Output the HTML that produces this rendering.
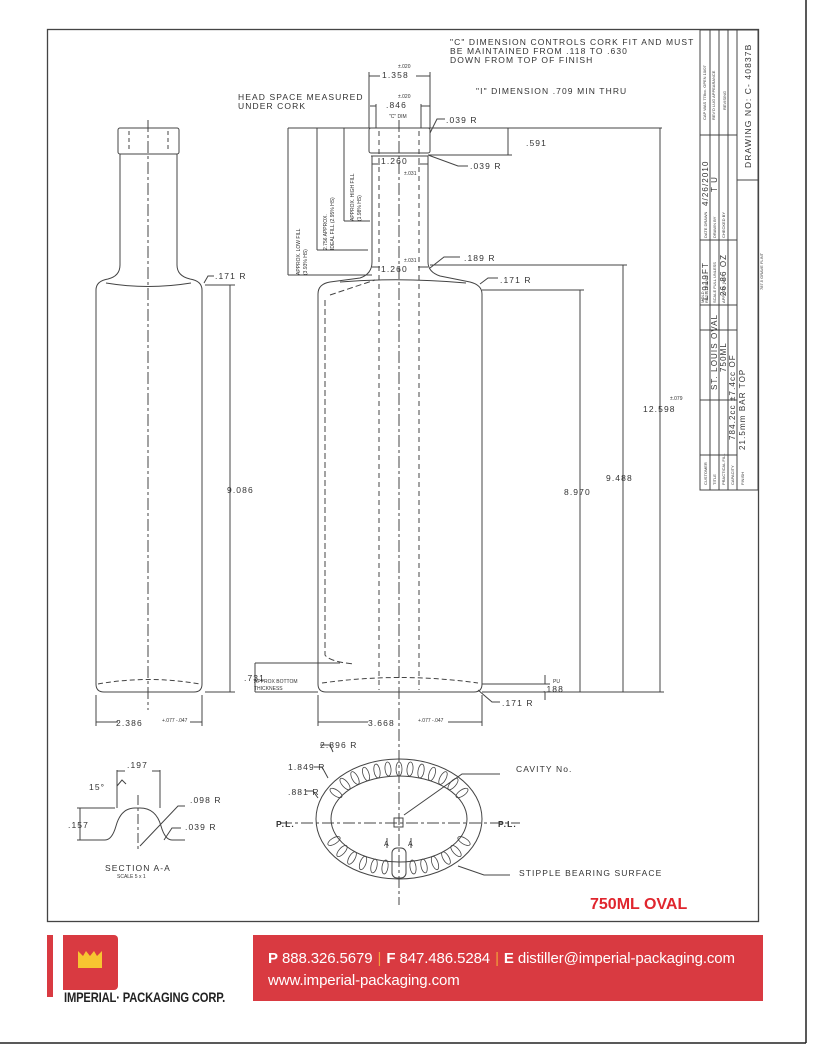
<!DOCTYPE html>
<html><head><meta charset="utf-8"><style>
html,body{margin:0;padding:0;background:#fff;}
body{width:813px;height:1047px;position:relative;overflow:hidden;font-family:"Liberation Sans",sans-serif;}
svg text{font-family:"Liberation Sans",sans-serif;fill:#333;}
.foot{position:absolute;left:253px;top:935px;width:510px;height:66px;background:#d93a41;color:#fff;font-size:15px;line-height:22px;padding:13px 0 0 15px;box-sizing:border-box;white-space:nowrap;letter-spacing:-0.1px;}
.foot b{font-weight:bold;}
.foot i{font-style:normal;color:#f2a33a;padding:0 5px;}
.sp{letter-spacing:1.1px;}
</style></head><body>
<svg width="813" height="1047" viewBox="0 0 813 1047" xmlns="http://www.w3.org/2000/svg" style="position:absolute;left:0;top:0">
<g fill="none" stroke="#444" stroke-width="1">
<rect x="47.5" y="29.5" width="711" height="892" stroke="#444" stroke-width="1.3"/>
<line x1="806" y1="0" x2="806" y2="1043" stroke="#222" stroke-width="1.5"/>
<line x1="0" y1="1043" x2="806" y2="1043" stroke="#222" stroke-width="1.5"/>

<rect x="118" y="128" width="61" height="26" rx="2"/>
<path d="M120 154 V265 Q120 276 108 279 Q96 281 96 290 V684 Q96 692 104 692 H194 Q202 692 202 684 V290 Q202 281 190 279 Q177 276 177 265 V154"/>
<path d="M106 283 Q148 290 191 283"/>
<path d="M98 684 Q148 675 200 684" stroke-dasharray="5 3"/>
<line x1="148" y1="120" x2="148" y2="710" stroke-dasharray="12 3 3 3"/>
<line x1="129" y1="131" x2="129" y2="152" stroke-dasharray="4 3"/>
<line x1="168" y1="131" x2="168" y2="152" stroke-dasharray="4 3"/>
<line x1="205" y1="285" x2="235" y2="285"/><line x1="230" y1="285" x2="230" y2="692"/>
<line x1="205" y1="692" x2="235" y2="692"/>
<path d="M204 283 L208 276 H214"/>
<line x1="96" y1="695" x2="96" y2="726"/><line x1="202" y1="695" x2="202" y2="726"/>
<line x1="96" y1="722" x2="118" y2="722"/><line x1="190" y1="722" x2="202" y2="722"/>

<rect x="369" y="128" width="61" height="25" rx="2"/>
<line x1="371" y1="153" x2="428" y2="153"/><line x1="371" y1="156" x2="428" y2="156"/>
<path d="M372 156 V262 Q372 274 360 278 L330 282 Q318 284 318 294 V684 Q318 692 326 692 H474 Q482 692 482 684 V294 Q482 285 470 282 L440 276 Q428 272 428 262 V156"/>
<path d="M340 282 Q400 277 466 283"/>
<path d="M325 300 V655 Q330 662 355 664" stroke-dasharray="6 3"/>
<path d="M330 295 L375 280" stroke-dasharray="6 3"/>
<path d="M322 683 Q400 672 478 683" stroke-dasharray="5 3"/>
<line x1="399" y1="120" x2="399" y2="905" stroke-dasharray="12 3 3 3"/>
<line x1="379" y1="131" x2="379" y2="690" stroke-dasharray="5 4"/>
<line x1="419" y1="131" x2="419" y2="690" stroke-dasharray="5 4"/>
<line x1="369" y1="72" x2="369" y2="128"/><line x1="430" y1="72" x2="430" y2="128"/>
<line x1="369" y1="76" x2="380" y2="76"/><line x1="416" y1="76" x2="430" y2="76"/>
<line x1="376" y1="104" x2="376" y2="128"/><line x1="421" y1="104" x2="421" y2="128"/>
<line x1="370" y1="106" x2="376" y2="106"/><line x1="421" y1="106" x2="430" y2="106"/>
<line x1="288" y1="128" x2="662" y2="128"/>
<line x1="372" y1="164" x2="380" y2="164"/><line x1="418" y1="164" x2="428" y2="164"/>
<line x1="372" y1="267" x2="380" y2="267"/><line x1="418" y1="267" x2="428" y2="267"/>
<path d="M430 133 L437 119 H445"/>
<path d="M428 155 L458 166 H468"/>
<path d="M430 268 L444 257 H460"/>
<path d="M480 284 L488 278 H498"/>
<line x1="428" y1="155" x2="512" y2="155"/><line x1="508" y1="128" x2="508" y2="155"/>
<line x1="288" y1="128" x2="288" y2="275"/><line x1="288" y1="275" x2="372" y2="275"/>
<line x1="317" y1="128" x2="317" y2="250"/><line x1="317" y1="250" x2="368" y2="250"/>
<line x1="344" y1="128" x2="344" y2="221"/><line x1="344" y1="221" x2="370" y2="221"/>
<line x1="430" y1="265" x2="627" y2="265"/><line x1="623" y1="265" x2="623" y2="692"/>
<line x1="482" y1="290" x2="584" y2="290"/><line x1="580" y1="290" x2="580" y2="692"/>
<line x1="660" y1="128" x2="660" y2="692"/>
<line x1="482" y1="692" x2="664" y2="692"/>
<line x1="482" y1="684" x2="550" y2="684"/>
<line x1="545" y1="675" x2="545" y2="684"/><line x1="545" y1="692" x2="545" y2="700"/>
<path d="M478 690 L492 702 H500"/>
<line x1="255" y1="663" x2="340" y2="663"/><line x1="255" y1="663" x2="255" y2="692"/>
<line x1="255" y1="692" x2="318" y2="692"/>
<line x1="318" y1="695" x2="318" y2="726"/><line x1="482" y1="695" x2="482" y2="726"/>
<line x1="318" y1="722" x2="368" y2="722"/><line x1="448" y1="722" x2="482" y2="722"/>

<ellipse cx="399" cy="819" rx="83" ry="60"/>
<ellipse cx="399" cy="819" rx="68" ry="43"/>
<line x1="280" y1="823" x2="520" y2="823" stroke-dasharray="12 3 3 3"/>
<rect x="394" y="818" width="9" height="9"/>
<rect x="392" y="848" width="14" height="30" rx="5"/>
<path d="M320 745 H330 L333 752"/>
<path d="M314 767 H322 L328 778"/>
<path d="M306 791 H313 L318 798"/>
<path d="M404 815 L462 774 H500"/>
<path d="M458 866 L484 875 H510"/>
<g stroke-width="0.8">
<g transform="translate(399 819)">
<ellipse cx="0" cy="-50" rx="3" ry="7"/>
<ellipse cx="-11" cy="-50" rx="3" ry="7" transform="rotate(-5 -11 -50)"/>
<ellipse cx="11" cy="-50" rx="3" ry="7" transform="rotate(5 11 -50)"/>
<ellipse cx="-22" cy="-48" rx="3" ry="7" transform="rotate(-10 -22 -48)"/>
<ellipse cx="22" cy="-48" rx="3" ry="7" transform="rotate(10 22 -48)"/>
<ellipse cx="-33" cy="-45" rx="3" ry="7" transform="rotate(-18 -33 -45)"/>
<ellipse cx="33" cy="-45" rx="3" ry="7" transform="rotate(18 33 -45)"/>
<ellipse cx="-44" cy="-41" rx="3" ry="7" transform="rotate(-28 -44 -41)"/>
<ellipse cx="44" cy="-41" rx="3" ry="7" transform="rotate(28 44 -41)"/>
<ellipse cx="-54" cy="-35" rx="3" ry="7" transform="rotate(-40 -54 -35)"/>
<ellipse cx="54" cy="-35" rx="3" ry="7" transform="rotate(40 54 -35)"/>
<ellipse cx="-63" cy="-26" rx="3" ry="7" transform="rotate(-55 -63 -26)"/>
<ellipse cx="63" cy="-26" rx="3" ry="7" transform="rotate(55 63 -26)"/>
<ellipse cx="-14" cy="48" rx="3" ry="7" transform="rotate(8 -14 48)"/>
<ellipse cx="14" cy="48" rx="3" ry="7" transform="rotate(-8 14 48)"/>
<ellipse cx="-25" cy="47" rx="3" ry="7" transform="rotate(12 -25 47)"/>
<ellipse cx="25" cy="47" rx="3" ry="7" transform="rotate(-12 25 47)"/>
<ellipse cx="-36" cy="44" rx="3" ry="7" transform="rotate(20 -36 44)"/>
<ellipse cx="36" cy="44" rx="3" ry="7" transform="rotate(-20 36 44)"/>
<ellipse cx="-47" cy="39" rx="3" ry="7" transform="rotate(30 -47 39)"/>
<ellipse cx="47" cy="39" rx="3" ry="7" transform="rotate(-30 47 39)"/>
<ellipse cx="-57" cy="32" rx="3" ry="7" transform="rotate(42 -57 32)"/>
<ellipse cx="57" cy="32" rx="3" ry="7" transform="rotate(-42 57 32)"/>
<ellipse cx="-65" cy="22" rx="3" ry="7" transform="rotate(58 -65 22)"/>
<ellipse cx="65" cy="22" rx="3" ry="7" transform="rotate(-58 65 22)"/>
</g></g>
<line x1="387" y1="848" x2="387" y2="838"/><line x1="411" y1="848" x2="411" y2="838"/>

<path d="M77 840 H105 Q112 840 116 826 Q121 808 135 808 H140 Q156 808 161 826 Q165 840 172 840 H185"/>
<line x1="77" y1="808" x2="115" y2="808"/>
<line x1="80" y1="808" x2="80" y2="840"/>
<line x1="138" y1="795" x2="138" y2="850" stroke-dasharray="10 3 3 3"/>
<line x1="117" y1="770" x2="117" y2="808"/><line x1="160" y1="770" x2="160" y2="808"/>
<line x1="117" y1="771" x2="125" y2="771"/><line x1="152" y1="771" x2="160" y2="771"/>
<path d="M117 786 L122 780 L126 784"/>
<path d="M140 846 L178 806 H185"/>
<path d="M164 840 L172 828 H181"/>

<rect x="700" y="30" width="58" height="460"/>
<line x1="710" y1="30" x2="710" y2="490"/>
<line x1="719" y1="30" x2="719" y2="490"/>
<line x1="728" y1="30" x2="728" y2="490"/>
<line x1="737" y1="30" x2="737" y2="490"/>
<line x1="700" y1="305" x2="737" y2="305"/>
<line x1="700" y1="240" x2="737" y2="240"/>
<line x1="700" y1="135" x2="737" y2="135"/>
<line x1="737" y1="180" x2="758" y2="180"/>
<line x1="700" y1="330" x2="737" y2="330"/>
<line x1="700" y1="400" x2="737" y2="400"/>
<line x1="700" y1="455" x2="737" y2="455"/>
</g>

<g font-size="8.5" fill="#333" class="sp">
<text x="450" y="45">"C" DIMENSION CONTROLS CORK FIT AND MUST</text>
<text x="450" y="54">BE MAINTAINED FROM .118 TO .630</text>
<text x="450" y="63">DOWN FROM TOP OF FINISH</text>
<text x="476" y="94">"I" DIMENSION .709 MIN THRU</text>
<text x="238" y="100">HEAD SPACE MEASURED</text>
<text x="238" y="109">UNDER CORK</text>
<text x="382" y="78">1.358</text>
<text x="386" y="108">.846</text>
<text x="381" y="164">1.260</text>
<text x="381" y="272">1.260</text>
<text x="446" y="123">.039 R</text>
<text x="470" y="169">.039 R</text>
<text x="464" y="261">.189 R</text>
<text x="500" y="283">.171 R</text>
<text x="215" y="279">.171 R</text>
<text x="526" y="146">.591</text>
<text x="227" y="493">9.086</text>
<text x="564" y="495">8.970</text>
<text x="606" y="481">9.488</text>
<text x="643" y="412">12.598</text>
<text x="244" y="681">.731</text>
<text x="543" y="692">.188</text>
<text x="502" y="706">.171 R</text>
<text x="116" y="726">2.386</text>
<text x="368" y="726">3.668</text>
<text x="320" y="748">2.896 R</text>
<text x="288" y="770">1.849 R</text>
<text x="288" y="795">.881 R</text>
<text x="516" y="772">CAVITY No.</text>
<text x="519" y="876">STIPPLE BEARING SURFACE</text>
<text x="276" y="827" font-weight="bold">P.L.</text>
<text x="498" y="827" font-weight="bold">P.L.</text>
<text x="127" y="768">.197</text>
<text x="89" y="790">15°</text>
<text x="68" y="828">.157</text>
<text x="190" y="803">.098 R</text>
<text x="185" y="830">.039 R</text>
<text x="105" y="871">SECTION A-A</text>
<text x="384" y="846" font-size="7">A</text><text x="408" y="846" font-size="7">A</text>
</g>
<g font-size="5" fill="#444">
<text x="389" y="118">"C" DIM</text>
<text x="398" y="68">±.020</text><text x="398" y="98">±.020</text>
<text x="404" y="175">±.031</text><text x="404" y="262">±.031</text>
<text x="117" y="878">SCALE 5 x 1</text>
<text x="254" y="683">APPROX BOTTOM</text><text x="254" y="690">THICKNESS</text>
<text x="162" y="722">+.077 -.047</text><text x="418" y="722">+.077 -.047</text>
<text x="553" y="683">PU</text>
<text x="670" y="400">±.079</text>
<text transform="translate(300 275) rotate(-90)">APPROX. LOW FILL</text>
<text transform="translate(307 275) rotate(-90)">(3.93% HS)</text>
<text transform="translate(327 250) rotate(-90)">2.756 APPROX.</text>
<text transform="translate(334 250) rotate(-90)">IDEAL FILL (2.95% HS)</text>
<text transform="translate(354 221) rotate(-90)">APPROX. HIGH FILL</text>
<text transform="translate(361 221) rotate(-90)">(1.98% HS)</text>
</g>
<text x="590" y="909" font-size="16" font-weight="bold" style="fill:#e0262e">750ML OVAL</text>

<g font-size="4" fill="#444">
<text transform="translate(707 485) rotate(-90)">CUSTOMER</text>
<text transform="translate(716 485) rotate(-90)">TITLE</text>
<text transform="translate(725 485) rotate(-90)">PRACTICAL FILL</text>
<text transform="translate(734 485) rotate(-90)">CAPACITY</text>
<text transform="translate(744 485) rotate(-90)">FINISH</text>
<text transform="translate(704 303) rotate(-90)">MOLD</text>
<text transform="translate(708 303) rotate(-90)">REGISTER NO.</text>
<text transform="translate(716 303) rotate(-90)">SCALE FULL UNLESS</text>
<text transform="translate(725 303) rotate(-90)">APPROX. WGT</text>
<text transform="translate(707 238) rotate(-90)">DATE DRAWN</text>
<text transform="translate(716 238) rotate(-90)">DRAWN BY</text>
<text transform="translate(725 238) rotate(-90)">CHECKED BY</text>
<text transform="translate(706 120) rotate(-90)">CAP WAS 778cc. OPEN 10/07</text>
<text transform="translate(715 120) rotate(-90)">REV'D LUG APPEARANCE</text>
<text transform="translate(726 110) rotate(-90)">REVISING</text>
<text transform="translate(763 290) rotate(-90)">787.5 GRAVE FLINT</text>
</g>
<g font-size="8" fill="#333" class="sp">
<text transform="translate(717 390) rotate(-90)">ST. LOUIS OVAL</text>
<text transform="translate(726 372) rotate(-90)">750ML</text>
<text transform="translate(735 440) rotate(-90)">784.2cc ±7.4cc OF</text>
<text transform="translate(745 450) rotate(-90)">21.5mm BAR TOP</text>
<text transform="translate(708 300) rotate(-90)">L-919FT</text>
<text transform="translate(726 296) rotate(-90)">26.86 OZ</text>
<text transform="translate(708 206) rotate(-90)">4/26/2010</text>
<text transform="translate(717 192) rotate(-90)">T U</text>
<text transform="translate(751 168) rotate(-90)" font-size="8.5">DRAWING NO: C- 40837B</text>
</g>
</svg>

<div style="position:absolute;left:47px;top:935px;width:6px;height:62px;background:#d93a41"></div>
<div style="position:absolute;left:63px;top:935px;width:55px;height:55px;background:#d93a41;border-radius:0 4px 4px 0"></div>
<svg style="position:absolute;left:78px;top:951px" width="24" height="17"><path d="M0 0 L5 5 L8 0 L12 5 L16 0 L19 5 L24 0 V17 H0Z" fill="#f7c531"/></svg>
<div style="position:absolute;left:64px;top:989px;font-size:14px;font-weight:bold;color:#222;letter-spacing:-0.2px;transform:scaleX(0.8);transform-origin:left;white-space:nowrap">IMPERIAL· PACKAGING CORP.</div>
<div class="foot"><b>P</b> 888.326.5679<i>|</i><b>F</b> 847.486.5284<i>|</i><b>E</b> distiller@imperial-packaging.com<br>www.imperial-packaging.com</div>
</body></html>
